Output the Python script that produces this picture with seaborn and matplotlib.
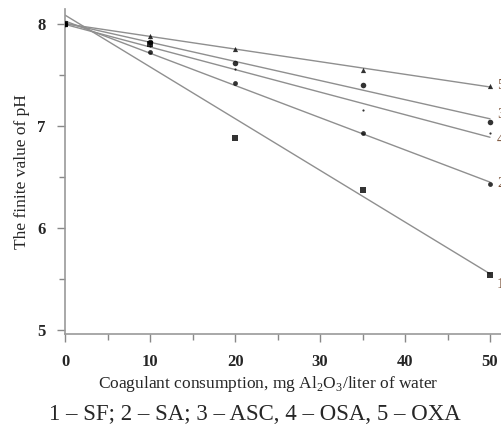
import numpy as np
import pandas as pd
import matplotlib
matplotlib.use("Agg")
import matplotlib.pyplot as plt
import seaborn as sns

# coagulant dose, mg Al2O3 / liter
dose = [0, 10, 20, 35, 50]

# final pH for each coagulant
ph_sf = [8.00, 7.80, 6.88, 6.37, 5.54]
ph_sa = [8.00, 7.72, 7.42, 6.93, 6.43]
ph_asc = [8.00, 7.82, 7.61, 7.40, 7.04]
ph_osa = [8.00, 7.78, 7.56, 7.15, 6.93]
ph_oxa = [8.00, 7.88, 7.75, 7.55, 7.39]

series_ids = ["1", "2", "3", "4", "5"]
series_names = ["SF", "SA", "ASC", "OSA", "OXA"]
series_values = [ph_sf, ph_sa, ph_asc, ph_osa, ph_oxa]
markers = ["s", "o", "o", ".", "^"]
marker_sizes = [18, 12, 16, 10, 14]
# vertical nudge (points) of the curve numbers at the right edge
label_dy = [-7, 0, 5, -5, 0]

caption = "1 – SF; 2 – SA; 3 – ASC, 4 – OSA, 5 – OXA"

sns.set_style("ticks")
plt.rcParams["font.family"] = ["Liberation Serif", "DejaVu Serif"]
plt.rcParams["mathtext.fontset"] = "custom"
plt.rcParams["mathtext.rm"] = "Liberation Serif"

df = pd.DataFrame({
    "dose": dose * len(series_ids),
    "ph": [v for vals in series_values for v in vals],
    "series": [s for s in series_ids for _ in dose],
})

fig = plt.figure(figsize=(5.01, 4.24), dpi=100)
# 8.5 px per dose unit, x spine runs past the right edge
ax = fig.add_axes([0.130, 0.212, 0.882, 0.766])

line_color = "#8f8f8f"
for sid, mk, ms, dy in zip(series_ids, markers, marker_sizes, label_dy):
    sub = df[df["series"] == sid]
    sns.regplot(data=sub, x="dose", y="ph", ax=ax, ci=None, marker=mk,
                scatter_kws={"s": ms, "color": "black", "zorder": 3, "linewidths": 0},
                line_kws={"color": line_color, "lw": 1.0, "zorder": 2})
    ax.annotate(sid, xy=(sub["dose"].iloc[-1], sub["ph"].iloc[-1]),
                xytext=(5, dy), textcoords="offset points", fontsize=11,
                color="#7a5238", va="center", annotation_clip=False)

ax.set_xlim(0, 52)
ax.set_ylim(4.96, 8.14)
ax.set_xticks([0, 10, 20, 30, 40, 50])
ax.set_xticks([5, 15, 25, 35, 45], minor=True)
ax.set_yticks([5, 6, 7, 8])
ax.set_yticks([5.5, 6.5, 7.5], minor=True)

for lbl in ax.get_xticklabels() + ax.get_yticklabels():
    lbl.set_fontweight("bold")
ax.tick_params(axis="both", which="major", length=6, width=1, color="#888888",
               labelsize=12, pad=8)
ax.tick_params(axis="both", which="minor", length=4, width=1, color="#888888")

sns.despine(ax=ax)
for sp in ["left", "bottom"]:
    ax.spines[sp].set_color("#999999")
    ax.spines[sp].set_linewidth(1.2)

ax.set_xlabel("Coagulant consumption, mg Al$_2$O$_3$/liter of water", fontsize=12.5)
ax.xaxis.set_label_coords(0.46, -0.122)
ax.set_ylabel("The finite value of pH", fontsize=12.5, labelpad=5)

fig.text(0.508, 0.022, caption, ha="center", va="center", fontsize=16.5)

fig.savefig("out.png", dpi=100)
